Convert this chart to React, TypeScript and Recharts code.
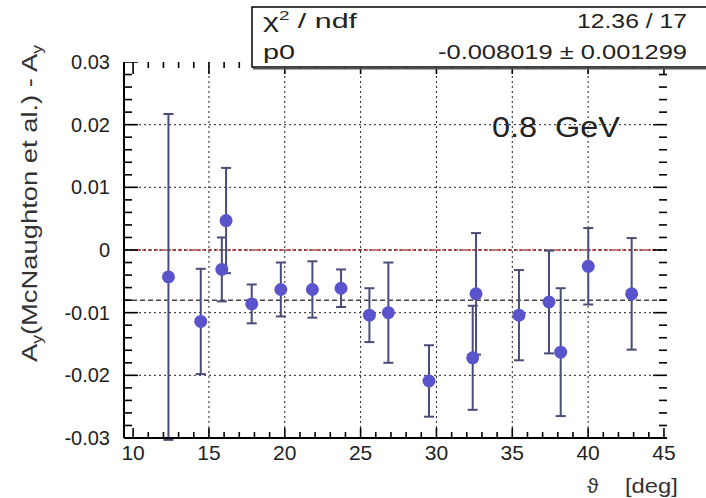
import React from 'react';
import { ScatterChart, Scatter, XAxis, YAxis, ErrorBar, ReferenceLine } from 'recharts';

// ---- data ----
const theta = [12.33, 14.46, 15.85, 16.13, 17.82, 19.74, 21.82, 23.71, 25.58, 26.83, 29.51, 32.39, 32.61, 35.44, 37.42, 38.19, 40.01, 42.87];
const diffAy = [-0.0043, -0.0114, -0.0031, 0.0047, -0.0086, -0.0063, -0.0063, -0.0061, -0.0104, -0.0100, -0.0209, -0.0172, -0.0070, -0.0104, -0.0083, -0.0163, -0.0026, -0.0070];
const diffErr = [0.026, 0.0084, 0.0051, 0.0084, 0.0031, 0.0043, 0.0045, 0.0030, 0.0043, 0.0080, 0.0057, 0.0083, 0.0097, 0.0072, 0.0082, 0.0102, 0.0061, 0.0089];

const xMajorTicks = [10, 15, 20, 25, 30, 35, 40, 45];
const yMajorTicks = [-0.03, -0.02, -0.01, 0, 0.01, 0.02, 0.03];
const xGrid = [15, 20, 25, 30, 35, 40];
const yGrid = [-0.02, -0.01, 0, 0.01, 0.02];
const fitP0 = -0.008019;

const statLabels = ['ndf', 'p0'];
const statValues = ['12.36 / 17', '-0.008019 \u00b1 0.001299'];
const energyLabel = '0.8  GeV';

const data = theta.map((x, i) => ({ x, y: diffAy[i], err: diffErr[i] }));

// minor tick sets
const xMinorTicks = Array.from({ length: 36 }, (_, i) => 10 + i);
const yMinorTicks = Array.from({ length: 31 }, (_, i) => (i * 2 - 30) / 1000);

const fmtY = (v: number) => (v === 0 ? '0' : String(v));

const FONT = 'Liberation Sans, Arial, sans-serif';
const AX = '#000';
const XDOM: [number, number] = [9.4, 45.2];
const YDOM: [number, number] = [-0.03, 0.03];
const frameLine = { stroke: AX, strokeWidth: 2 };

const isXMajor = (v: number) => xMajorTicks.includes(v);
const isYMajor = (v: number) => Math.abs(Math.round(v * 1000)) % 10 === 0;

// tick-mark positions on the four frame sides (placed through the chart scales)
const leftTicks = yMinorTicks.map((v) => ({ x: XDOM[0], y: v, m: isYMajor(v) ? 1 : 0 }));
const rightTicks = yMinorTicks.map((v) => ({ x: XDOM[1], y: v, m: isYMajor(v) ? 1 : 0 }));
const bottomTicks = xMinorTicks.map((v) => ({ x: v, y: YDOM[0], m: isXMajor(v) ? 1 : 0 }));
const topTicks = xMinorTicks.map((v) => ({ x: v, y: YDOM[1], m: isXMajor(v) ? 1 : 0 }));

const Marker = (p: any) => <circle cx={p.cx} cy={p.cy} r={6.5} fill="#5a54cc" />;

const mkTick = (dx: number, dy: number, major: number, minor: number) => (p: any) => {
  const m = p.m ?? (p.payload ? p.payload.m : 0);
  const len = m ? major : minor;
  return <path d={`M${p.cx},${p.cy}L${p.cx + dx * len},${p.cy + dy * len}`} stroke={AX} strokeWidth={1.6} fill="none" />;
};
const LeftTick = mkTick(1, 0, 14, 8);
const RightTick = mkTick(-1, 0, 14, 8);
const BottomTick = mkTick(0, -1, 10, 6);
const TopTick = mkTick(0, 1, 12, 6);

export default function App() {
  return (
    <div style={{ position: 'absolute', left: 0, top: 0, width: 706, height: 498, background: '#fff' }}>
      <ScatterChart width={706} height={498} margin={{ top: 62, right: 39, bottom: 20, left: 0 }}>
        <XAxis
          xAxisId="b"
          type="number"
          dataKey="x"
          domain={XDOM}
          ticks={xMajorTicks}
          interval={0}
          tick={{ fontSize: 21, fill: '#222', fontFamily: FONT }}
          tickSize={0}
          tickMargin={7}
          tickLine={false}
          axisLine={frameLine}
          height={40}
          allowDataOverflow
        />
        <XAxis
          xAxisId="t"
          orientation="top"
          type="number"
          domain={XDOM}
          ticks={xMajorTicks}
          tick={false}
          tickLine={false}
          axisLine={frameLine}
          height={0}
          allowDataOverflow
        />
        <YAxis
          yAxisId="l"
          type="number"
          dataKey="y"
          domain={YDOM}
          ticks={yMajorTicks}
          interval={0}
          tickFormatter={fmtY}
          tick={{ fontSize: 20, fill: '#222', fontFamily: FONT }}
          tickSize={0}
          tickMargin={14}
          tickLine={false}
          axisLine={frameLine}
          width={124}
          allowDataOverflow
        />
        <YAxis
          yAxisId="r"
          orientation="right"
          type="number"
          domain={YDOM}
          ticks={yMajorTicks}
          tick={false}
          tickLine={false}
          axisLine={frameLine}
          width={0}
          allowDataOverflow
        />
        {xGrid.map((g) => (
          <ReferenceLine key={'gx' + g} xAxisId="b" yAxisId="l" x={g} stroke="#222" strokeWidth={1} strokeDasharray="2 3" />
        ))}
        <ReferenceLine xAxisId="b" yAxisId="l" y={0} stroke="#d03030" strokeWidth={1.5} strokeDasharray="4 2" />
        {yGrid.map((g) => (
          <ReferenceLine key={'gy' + g} xAxisId="b" yAxisId="l" y={g} stroke="#222" strokeWidth={1} strokeDasharray="2 3" />
        ))}
        <ReferenceLine xAxisId="b" yAxisId="l" y={fitP0} stroke="#444" strokeWidth={1.3} strokeDasharray="5 3" />
        <Scatter xAxisId="b" yAxisId="l" data={leftTicks} shape={LeftTick} isAnimationActive={false} />
        <Scatter xAxisId="b" yAxisId="l" data={rightTicks} shape={RightTick} isAnimationActive={false} />
        <Scatter xAxisId="b" yAxisId="l" data={bottomTicks} shape={BottomTick} isAnimationActive={false} />
        <Scatter xAxisId="b" yAxisId="l" data={topTicks} shape={TopTick} isAnimationActive={false} />
        <Scatter xAxisId="b" yAxisId="l" data={data} shape={<Marker />} isAnimationActive={false}>
          <ErrorBar dataKey="err" direction="y" width={5} stroke="#4b4b78" strokeWidth={2} />
        </Scatter>
      </ScatterChart>
      <svg width={706} height={498} style={{ position: 'absolute', left: 0, top: 0, pointerEvents: 'none' }}>
        {/* stats box */}
        <rect x={252} y={7} width={470} height={60} fill="#fff" stroke="#000" strokeWidth={1.5} />
        <line x1={253} x2={706} y1={68.5} y2={68.5} stroke="#555" strokeWidth={2} />
        <text x={263} y={28} fontSize={21} fontFamily={FONT} fill="#222" textLength={94} lengthAdjust="spacingAndGlyphs">
          {'\u03c7'}
          <tspan fontSize={13} dy={-8}>2</tspan>
          <tspan dy={8}>{' / ' + statLabels[0]}</tspan>
        </text>
        <text x={577} y={28} fontSize={21} fontFamily={FONT} fill="#222" textLength={110} lengthAdjust="spacingAndGlyphs">
          {statValues[0]}
        </text>
        <text x={263} y={59} fontSize={21} fontFamily={FONT} fill="#222" textLength={32} lengthAdjust="spacingAndGlyphs">
          {statLabels[1]}
        </text>
        <text x={438} y={59} fontSize={21} fontFamily={FONT} fill="#222" textLength={249} lengthAdjust="spacingAndGlyphs">
          {statValues[1]}
        </text>
        {/* energy label */}
        <text x={492} y={137} fontSize={30} fontFamily={FONT} fill="#222" textLength={128} lengthAdjust="spacingAndGlyphs" xmlSpace="preserve">
          {energyLabel}
        </text>
        {/* y axis title */}
        <text
          transform="translate(37,362) rotate(-90)"
          x={0}
          y={0}
          fontSize={22}
          fontFamily={FONT}
          fill="#333"
          textLength={317}
          lengthAdjust="spacingAndGlyphs"
        >
          A<tspan fontSize={14} dy={5}>y</tspan>
          <tspan dy={-5}>(McNaughton et al.)  -  A</tspan>
          <tspan fontSize={14} dy={5}>y</tspan>
        </text>
        {/* x axis title */}
        <text x={587} y={493} fontSize={21} fontFamily={FONT} fill="#333">
          {'\u03d1'}
        </text>
        <text x={625} y={493} fontSize={21} fontFamily={FONT} fill="#333" textLength={53} lengthAdjust="spacingAndGlyphs">
          [deg]
        </text>
      </svg>
    </div>
  );
}
